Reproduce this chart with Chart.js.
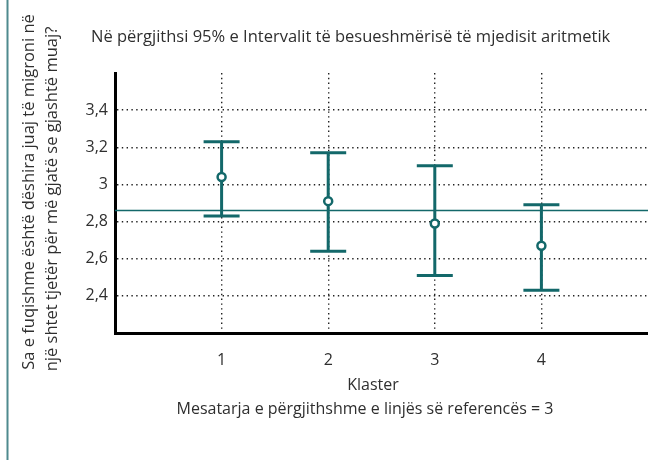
<!DOCTYPE html>
<html>
<head>
<meta charset="utf-8">
<script src="https://cdn.jsdelivr.net/npm/chart.js@4.4.1/dist/chart.umd.min.js"></script>
<style>
  html, body { margin: 0; padding: 0; background: #fff; }
  #wrap { width: 648px; height: 460px; }
</style>
</head>
<body>
<div id="wrap"><canvas id="chart" width="648" height="460"></canvas></div>
<script>
// === Data ===
const clusters = [1, 2, 3, 4];
const means = [3.04, 2.91, 2.79, 2.67];
const upper = [3.23, 3.17, 3.10, 2.89];
const lower = [2.83, 2.64, 2.51, 2.43];
const referenceMean = 2.86;
const yTicks = [2.4, 2.6, 2.8, 3.0, 3.2, 3.4];

const titleText = "Në përgjithsi 95% e Intervalit të besueshmërisë të mjedisit aritmetik";
const yTitleLines = [
  "Sa e fuqishme është dëshira juaj të migroni në",
  "një shtet tjetër për më gjatë se gjashtë muaj?"
];
const xTitle = "Klaster";
const footText = "Mesatarja e përgjithshme e linjës së referencës = 3";

const TEAL = "#13686a";
const TEXT = "#2f2f2f";
const FONT = "'Open Sans', 'Noto Sans', sans-serif";

// === Plugin: error bars, reference line, texts ===
const decorPlugin = {
  id: "decor",
  beforeDatasetsDraw(chart) {
    const { ctx, scales: { x, y }, chartArea } = chart;
    ctx.save();
    // reference line
    const ry = y.getPixelForValue(referenceMean);
    ctx.strokeStyle = TEAL;
    ctx.lineWidth = 1.6;
    ctx.beginPath();
    ctx.moveTo(chartArea.left, ry);
    ctx.lineTo(chartArea.right, ry);
    ctx.stroke();

    // error bars
    ctx.lineWidth = 3;
    clusters.forEach((c, i) => {
      const px = x.getPixelForValue(c);
      const top = y.getPixelForValue(upper[i]);
      const bot = y.getPixelForValue(lower[i]);
      const half = 18;
      ctx.beginPath();
      ctx.moveTo(px, top);
      ctx.lineTo(px, bot);
      ctx.moveTo(px - half, top);
      ctx.lineTo(px + half, top);
      ctx.moveTo(px - half, bot);
      ctx.lineTo(px + half, bot);
      ctx.stroke();
    });
    ctx.restore();
  },
  afterDraw(chart) {
    const { ctx } = chart;
    ctx.save();
    // left border line
    ctx.strokeStyle = "#4e8a8e";
    ctx.lineWidth = 2;
    ctx.beginPath();
    ctx.moveTo(7.5, 0);
    ctx.lineTo(7.5, 460);
    ctx.stroke();

    ctx.fillStyle = TEXT;
    // title
    ctx.font = "16.5px " + FONT;
    ctx.textAlign = "left";
    ctx.textBaseline = "alphabetic";
    ctx.fillText(titleText, 91, 42);

    // x titles
    ctx.font = "16px " + FONT;
    ctx.textAlign = "center";
    ctx.fillText(xTitle, 373, 390);
    ctx.fillText(footText, 365, 414);

    // y title (rotated)
    ctx.rotate(-Math.PI / 2);
    ctx.font = "16.5px " + FONT;
    ctx.fillText(yTitleLines[0], -192, 34);
    ctx.fillText(yTitleLines[1], -199, 57);
    ctx.restore();
  }
};

const ctx = document.getElementById("chart").getContext("2d");
new Chart(ctx, {
  type: "scatter",
  data: {
    datasets: [{
      data: clusters.map((c, i) => ({ x: c, y: means[i] })),
      pointRadius: 4,
      pointBorderWidth: 2.5,
      pointBackgroundColor: "#fff",
      pointBorderColor: TEAL,
      showLine: false
    }]
  },
  options: {
    responsive: false,
    animation: false,
    layout: { autoPadding: false, padding: { top: 73, left: 0, right: 0, bottom: 0 } },
    plugins: { legend: { display: false }, tooltip: { enabled: false } },
    scales: {
      x: {
        type: "linear",
        min: 0,
        max: 5,
        afterBuildTicks: s => { s.ticks = clusters.map(v => ({ value: v })); },
        afterFit: s => { s.height = 127; },
        grid: { color: "#222", lineWidth: 1.4, drawTicks: false },
        border: { display: true, color: "#000", width: 3, dash: [1.4, 3.4] },
        ticks: { color: TEXT, font: { size: 16, family: FONT }, padding: 18, callback: v => String(v) }
      },
      y: {
        min: 2.2,
        max: 3.6,
        afterBuildTicks: s => { s.ticks = yTicks.map(v => ({ value: v })); },
        afterFit: s => { s.width = 115; },
        grid: { color: "#222", lineWidth: 1.4, drawTicks: false },
        border: { display: true, color: "#000", width: 3, dash: [1.4, 3.4] },
        ticks: {
          color: TEXT,
          font: { size: 16, family: FONT },
          padding: 7,
          callback: v => String(+v.toFixed(1)).replace(".", ",")
        }
      }
    }
  },
  plugins: [decorPlugin]
});
</script>
</body>
</html>
